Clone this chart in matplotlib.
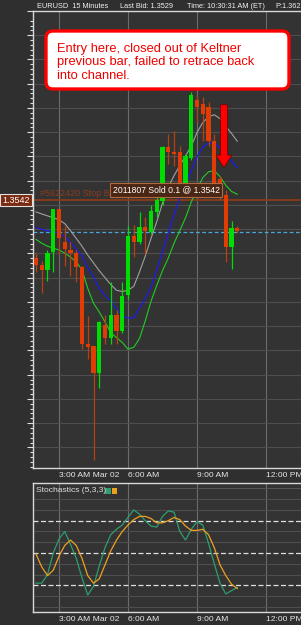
import numpy as np
import matplotlib.pyplot as plt
import matplotlib.transforms as mtransforms
from matplotlib.patches import FancyBboxPatch, Rectangle

plt.rcParams['font.family'] = ['Liberation Sans', 'DejaVu Sans']

# EURUSD 15 minute bars, first bar 2:00 AM (time in hours)
hours = 2.0 + 0.25 * np.arange(36)

opens = [1.35181, 1.35153, 1.35133, 1.35205, 1.35384, 1.35246, 1.35214, 1.35201, 1.35145, 1.34825,
         1.34817, 1.34707, 1.34906, 1.34853, 1.34946, 1.34882, 1.35027, 1.35270, 1.35246, 1.35311,
         1.35290, 1.35371, 1.35416, 1.35639, 1.35618, 1.35618, 1.35465, 1.35594, 1.35833, 1.35817,
         1.35805, 1.35663, 1.35509, 1.35440, 1.35226, 1.35303]
highs = [1.35201, 1.35169, 1.35214, 1.35384, 1.35384, 1.35315, 1.35246, 1.35214, 1.35149, 1.34942,
         1.34817, 1.34922, 1.34946, 1.35084, 1.34967, 1.35084, 1.35315, 1.35319, 1.35371, 1.35351,
         1.35400, 1.35469, 1.35643, 1.35691, 1.35703, 1.35643, 1.35610, 1.35865, 1.35853, 1.35845,
         1.35825, 1.35691, 1.35521, 1.35460, 1.35335, 1.35315]
lows = [1.35124, 1.35035, 1.35088, 1.35124, 1.35197, 1.35149, 1.35108, 1.35084, 1.34805, 1.34764,
        1.34347, 1.34643, 1.34825, 1.34825, 1.34825, 1.34873, 1.35011, 1.35185, 1.35238, 1.35197,
        1.35282, 1.35351, 1.35400, 1.35570, 1.35562, 1.35456, 1.35456, 1.35586, 1.35744, 1.35663,
        1.35643, 1.35456, 1.35420, 1.35165, 1.35137, 1.35286]
closes = [1.35153, 1.35133, 1.35201, 1.35384, 1.35262, 1.35218, 1.35201, 1.35145, 1.34825, 1.34813,
          1.34707, 1.34918, 1.34853, 1.34946, 1.34882, 1.35023, 1.35270, 1.35246, 1.35311, 1.35294,
          1.35375, 1.35420, 1.35639, 1.35618, 1.35610, 1.35465, 1.35602, 1.35853, 1.35805, 1.35776,
          1.35663, 1.35469, 1.35428, 1.35226, 1.35303, 1.35294]

# Keltner channel
kelt_upper = [1.35371, 1.35363, 1.35355, 1.35347, 1.35339, 1.35323, 1.35294, 1.35262, 1.35230, 1.35193,
              1.35161, 1.35129, 1.35100, 1.35072, 1.35048, 1.35043, 1.35048, 1.35064, 1.35124, 1.35189,
              1.35262, 1.35331, 1.35408, 1.35473, 1.35521, 1.35562, 1.35602, 1.35643, 1.35699, 1.35740,
              1.35764, 1.35772, 1.35756, 1.35724, 1.35695, 1.35663]
kelt_mid = [1.35307, 1.35299, 1.35294, 1.35290, 1.35282, 1.35270, 1.35246, 1.35218, 1.35189, 1.35141,
            1.35104, 1.35056, 1.35027, 1.35003, 1.34971, 1.34942, 1.34934, 1.34934, 1.34975, 1.35015,
            1.35060, 1.35133, 1.35205, 1.35286, 1.35359, 1.35428, 1.35481, 1.35541, 1.35598, 1.35639,
            1.35655, 1.35655, 1.35635, 1.35606, 1.35582, 1.35554]
kelt_lower = [1.35258, 1.35242, 1.35230, 1.35222, 1.35214, 1.35201, 1.35185, 1.35165, 1.35133, 1.35056,
              1.34995, 1.34958, 1.34918, 1.34873, 1.34853, 1.34833, 1.34805, 1.34813, 1.34849, 1.34922,
              1.35003, 1.35068, 1.35129, 1.35181, 1.35242, 1.35294, 1.35347, 1.35412, 1.35465, 1.35513,
              1.35537, 1.35541, 1.35517, 1.35481, 1.35456, 1.35444]

# Stochastics (5,3,3)
stoch_k = [22, 22, 30, 50, 63, 70, 58, 45, 27, 11, 19, 38, 55, 67, 72, 76, 83, 90, 86, 80,
           75, 74, 84, 89, 88, 70, 62, 72, 79, 76, 59, 40, 22, 12, 15, 18]
stoch_d = [49, 37, 29, 34, 47, 57, 62, 57, 45, 29, 22, 26, 39, 52, 62, 70, 76, 81, 84, 84,
           82, 78, 78, 80, 83, 81, 75, 71, 71, 72, 67, 55, 39, 29, 21, 17]

time_ticks = [3, 6, 9, 12]
time_labels = ['3:00 AM Mar 02', '6:00 AM', '9:00 AM', '12:00 PM']
order_price = 1.3542
last_bid = 1.3529

BG = '#2f2f2f'
PANEL = '#333333'
UP = '#00dd00'
DOWN = '#e23c05'

fig = plt.figure(figsize=(3.01, 6.25), dpi=100, facecolor=BG)
ax = fig.add_axes([33 / 301, 1 - 468 / 625, 268 / 301, 457 / 625])
axs = fig.add_axes([33 / 301, 1 - 612 / 625, 268 / 301, 129 / 625])

for a in (ax, axs):
    a.set_facecolor(PANEL)
    a.set_xlim(1.87, 13.52)
    for s in ('left', 'top', 'bottom'):
        a.spines[s].set_color('#d8d8d8')
        a.spines[s].set_linewidth(1)
    a.spines['right'].set_visible(False)
    for t in time_ticks:
        a.axvline(t, color='#6c6c6c', lw=0.8, zorder=0)
    a.set_xticks(time_ticks)
    a.set_xticklabels(time_labels, ha='left', fontsize=6.1, color='#e8e8e8')
    a.tick_params(axis='x', length=0, pad=3)

# price panel
ax.set_ylim(1.34315, 1.36165)
for p in np.arange(1.3440, 1.3620, 0.0010):
    ax.axhline(p, color='#4e4e4e', lw=0.8, zorder=0)
ax.set_yticks(np.arange(1.3440, 1.3620, 0.0010))
ax.set_yticks(np.arange(1.3432, 1.3618, 0.0002), minor=True)
ax.set_yticklabels([])
ax.tick_params(axis='y', which='major', length=4, color='#e0e0e0', width=0.8)
ax.tick_params(axis='y', which='minor', length=2, color='#e0e0e0', width=0.8)

ax.axhline(order_price, color='#8a3a18', lw=1.3, zorder=1)
ax.axhline(last_bid, color='#48a8da', lw=0.9, ls=(0, (3, 2)), zorder=1)

ax.plot(hours, kelt_upper, color='#a0a0a0', lw=0.8, zorder=2)
ax.plot(hours, kelt_mid, color='#1a1aff', lw=0.8, zorder=2)
ax.plot(hours, kelt_lower, color='#22cc22', lw=0.8, zorder=2)

o = np.array(opens)
c = np.array(closes)
cols = [UP if cc >= oo else DOWN for oo, cc in zip(o, c)]
wick_cols = [UP if cc >= oo else '#b8400f' for oo, cc in zip(o, c)]
ax.vlines(hours, lows, highs, colors=wick_cols, lw=0.9, zorder=3)
ax.bar(hours, np.maximum(np.abs(c - o), 0.00004), bottom=np.minimum(o, c),
       width=0.19, color=cols, zorder=4)

ax.text(2.17, 1.35446, '#5622420 Stop Buy @ 1.3542', color='#8c3c1c', fontsize=6.5,
        va='center', ha='left', zorder=5)
ax.text(5.33, 1.35462, '2011807 Sold 0.1 @ 1.3542', color='white', fontsize=6.2,
        va='center', ha='left', zorder=6,
        bbox=dict(boxstyle='square,pad=0.25', fc='#4a2614', ec='#b06a40', lw=0.8))

lbl_tr = mtransforms.blended_transform_factory(fig.transFigure, ax.transData)
fig.text(16 / 301, order_price, '1.3542', transform=lbl_tr, color='white', fontsize=6.5,
         ha='center', va='center',
         bbox=dict(boxstyle='square,pad=0.2', fc='#7a2a10', ec='#e0e0e0', lw=0.8))

# red arrow
arrow_time, arrow_from, arrow_to = 10.17, 1.35813, 1.35554
ax.annotate('', xy=(arrow_time, arrow_to), xytext=(arrow_time, arrow_from),
            arrowprops=dict(arrowstyle='simple,head_length=0.9,head_width=1.15,tail_width=0.5',
                            fc='#ff0000', ec='#700000', lw=0.5, mutation_scale=10,
                            shrinkA=0, shrinkB=0), zorder=7, annotation_clip=False)

# stochastics panel
axs.set_ylim(-4.8, 115)
axs.set_yticks([])
for v in range(0, 120, 10):
    if v in (20, 50, 80):
        axs.axhline(v, color='#dedede', lw=0.9, ls=(0, (4, 2)), zorder=1)
    elif v == 110:
        axs.axhline(v, color='#555555', lw=0.8, xmin=0.474, zorder=0)
    else:
        axs.axhline(v, color='#4e4e4e', lw=0.8, zorder=0)
axs.plot(hours, stoch_k, color='#2e9e6c', lw=0.9, zorder=3)
axs.plot(hours, stoch_d, color='#f0a020', lw=0.9, zorder=3)

fig.text(36 / 301, 1 - 491 / 625, 'Stochastics (5,3,3)', color='#e0e0e0', fontsize=6.1,
         ha='left', va='center')
fig.add_artist(Rectangle((1.05, 1.31), 0.055, 0.06, transform=fig.dpi_scale_trans,
                         fc='#2e9e6c', ec='none'))
fig.add_artist(Rectangle((1.115, 1.31), 0.055, 0.06, transform=fig.dpi_scale_trans,
                         fc='#f0a020', ec='none'))

# header
hdr_y = 1 - 6 / 625
for x, s in [(37, 'EURUSD  15 Minutes'), (120, 'Last Bid: 1.3529'),
             (187, 'Time: 10:30:31 AM (ET)'), (275, 'P:1.3622')]:
    fig.text(x / 301, hdr_y, s, color='#f0f0f0', fontsize=5.3, ha='left', va='center')

# callout
fig.add_artist(FancyBboxPatch((0.46, 5.36), 2.43, 0.58, boxstyle='round,pad=0,rounding_size=0.07',
                              transform=fig.dpi_scale_trans, fc='white', ec='#ff0000', lw=2.4))
fig.text(0.575, 5.625, 'Entry here, closed out of Keltner\nprevious bar, failed to retrace back\ninto channel.',
         transform=fig.dpi_scale_trans, color='#f00000', fontsize=9.3, ha='left', va='center',
         linespacing=1.2)

fig.savefig('out.png', dpi=100, facecolor=BG)
